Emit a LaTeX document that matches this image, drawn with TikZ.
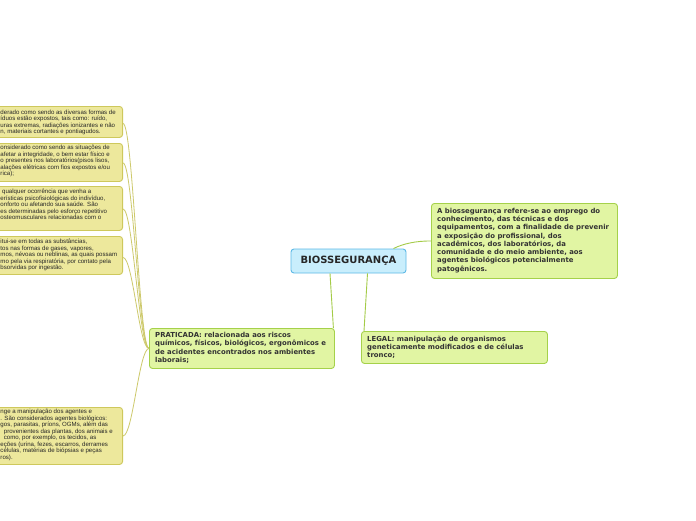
\documentclass[tikz,border=0pt]{standalone}
\usepackage{fontspec}
\setmainfont{DejaVu Sans}
\newfontfamily\lfont{Liberation Sans}
\definecolor{cfill}{HTML}{C9EEFC}
\definecolor{cline}{HTML}{5DB9E6}
\definecolor{gfill}{HTML}{E1F5A3}
\definecolor{gline}{HTML}{A5D14A}
\definecolor{lfill}{HTML}{EDE89C}
\definecolor{lline}{HTML}{CEC85C}
\definecolor{tcol}{HTML}{333333}
\definecolor{gconncol}{HTML}{A4CB47}
\definecolor{lconncol}{HTML}{CDC96B}
\begin{document}
\begin{tikzpicture}[x=1pt,y=-1pt,
  box/.style={rounded corners=3pt, line width=0.9pt, inner sep=0pt},
  gbox/.style={box, fill=gfill, draw=gline, anchor=north west},
  lbox/.style={box, fill=lfill, draw=lline, anchor=north east, minimum width=143},
  cbox/.style={box, fill=cfill, draw=cline, font=\bfseries\fontsize{10}{12}\selectfont, text=black!85},
  gtext/.style={anchor=north west, inner sep=0pt, align=left, text=tcol, font=\bfseries\fontsize{6.9}{8.3}\selectfont},
  ltext/.style={anchor=north west, inner sep=0pt, align=left, text=black!85, font=\lfont\fontsize{6.1}{6.5}\selectfont},
  gconn/.style={draw=gconncol, line width=0.9pt},
  lconn/.style={draw=lconncol, line width=0.8pt}]
\useasboundingbox (0,0) rectangle (696,520);
\clip (0,0) rectangle (696,520);
\fill[white] (0,0) rectangle (696,520);

% central
\node[cbox, minimum width=115, minimum height=24] (bio) at (348.5,261) {BIOSSEGURANÇA};

% green boxes
\node[gbox, minimum width=186, minimum height=75] (def) at (431,203) {};
\node[gtext] (deft) at (437,207.1) {\strut A biossegurança refere-se ao emprego do\\conhecimento, das técnicas e dos\\equipamentos, com a finalidade de prevenir\\a exposição do profissional, dos\\acadêmicos, dos laboratórios, da\\comunidade e do meio ambiente, aos\\agentes biológicos potencialmente\\patogênicos.};

\node[gbox, minimum width=186, minimum height=32] (leg) at (361,331) {};
\node[gtext] (legt) at (367,335.1) {\strut LEGAL: manipulação de organismos\\geneticamente modificados e de células\\tronco;};

\node[gbox, minimum width=185, minimum height=40] (prat) at (149,328) {};
\node[gtext] (pratt) at (155,331.6) {\strut PRATICADA: relacionada aos riscos\\químicos, físicos, biológicos, ergonômicos e\\de acidentes encontrados nos ambientes\\laborais;};

% left boxes
\node[lbox, minimum height=31] (f1) at (123,106) {};
\node[ltext] (f1t) at (0.3,109.4) {\strut derado como sendo as diversas formas de\\íduos estão expostos, tais como: ruído,\\uras extremas, radiações ionizantes e não\\n, materiais cortantes e pontiagudos.};

\node[lbox, minimum height=38] (f2) at (123,143) {};
\node[ltext] (f2t) at (0.3,145) {\strut onsiderado como sendo as situações de\\afetar a integridade, o bem estar físico e\\o presentes nos laboratórios(pisos lisos,\\alações elétricas com fios expostos e/ou\\rica);};

\node[lbox, minimum height=44] (f3) at (123,186) {};
\node[ltext] (f3t) at (0.3,189) {\strut\ qualquer ocorrência que venha a\\erísticas psicofisiológicas do indivíduo,\\onforto ou afetando sua saúde. São\\es determinadas pelo esforço repetitivo\\osteomusculares relacionadas com o};

\node[lbox, minimum height=38] (f4) at (123,236) {};
\node[ltext] (f4t) at (0.3,239) {\strut itui-se em todas as substâncias,\\tos nas formas de gases, vapores,\\mos, névoas ou neblinas, as quais possam\\mo pela via respiratória, por contato pela\\bsorvidas por ingestão.};

\node[lbox, minimum height=57] (f5) at (123,407) {};
\node[ltext] (f5t) at (0.3,409) {\strut nge a manipulação dos agentes e\\. São considerados agentes biológicos:\\gos, parasitas, príons, OGMs, além das\\\ \ provenientes das plantas, dos animais e\\\ \ como, por exemplo, os tecidos, as\\eções (urina, fezes, escarros, derrames\\células, matérias de biópsias e peças\\ros).};

% connectors
\draw[gconn] ([xshift=-18.5pt]bio.south) -- ([xshift=-1.5pt]prat.north east);
\draw[gconn] ([xshift=19pt]bio.south) -- ([xshift=3pt]leg.north west);
\draw[gconn] ([xshift=-13pt]bio.north east) .. controls +(10,-5) and +(-15,0) .. (def.west);

\draw[lconn] (prat.west) .. controls +(-10,0) and +(10,0) .. ([yshift=-1.5pt]f1.east);
\draw[lconn] (prat.west) .. controls +(-10,0) and +(10,0) .. ([yshift=-0.5pt]f2.east);
\draw[lconn] (prat.west) .. controls +(-10,0) and +(10,0) .. ([yshift=-0.5pt]f3.east);
\draw[lconn] (prat.west) .. controls +(-10,0) and +(10,0) .. ([yshift=-2pt]f4.east);
\draw[lconn] (prat.west) .. controls +(-10,0) and +(10,0) .. ([yshift=0pt]f5.east);
\end{tikzpicture}
\end{document}
